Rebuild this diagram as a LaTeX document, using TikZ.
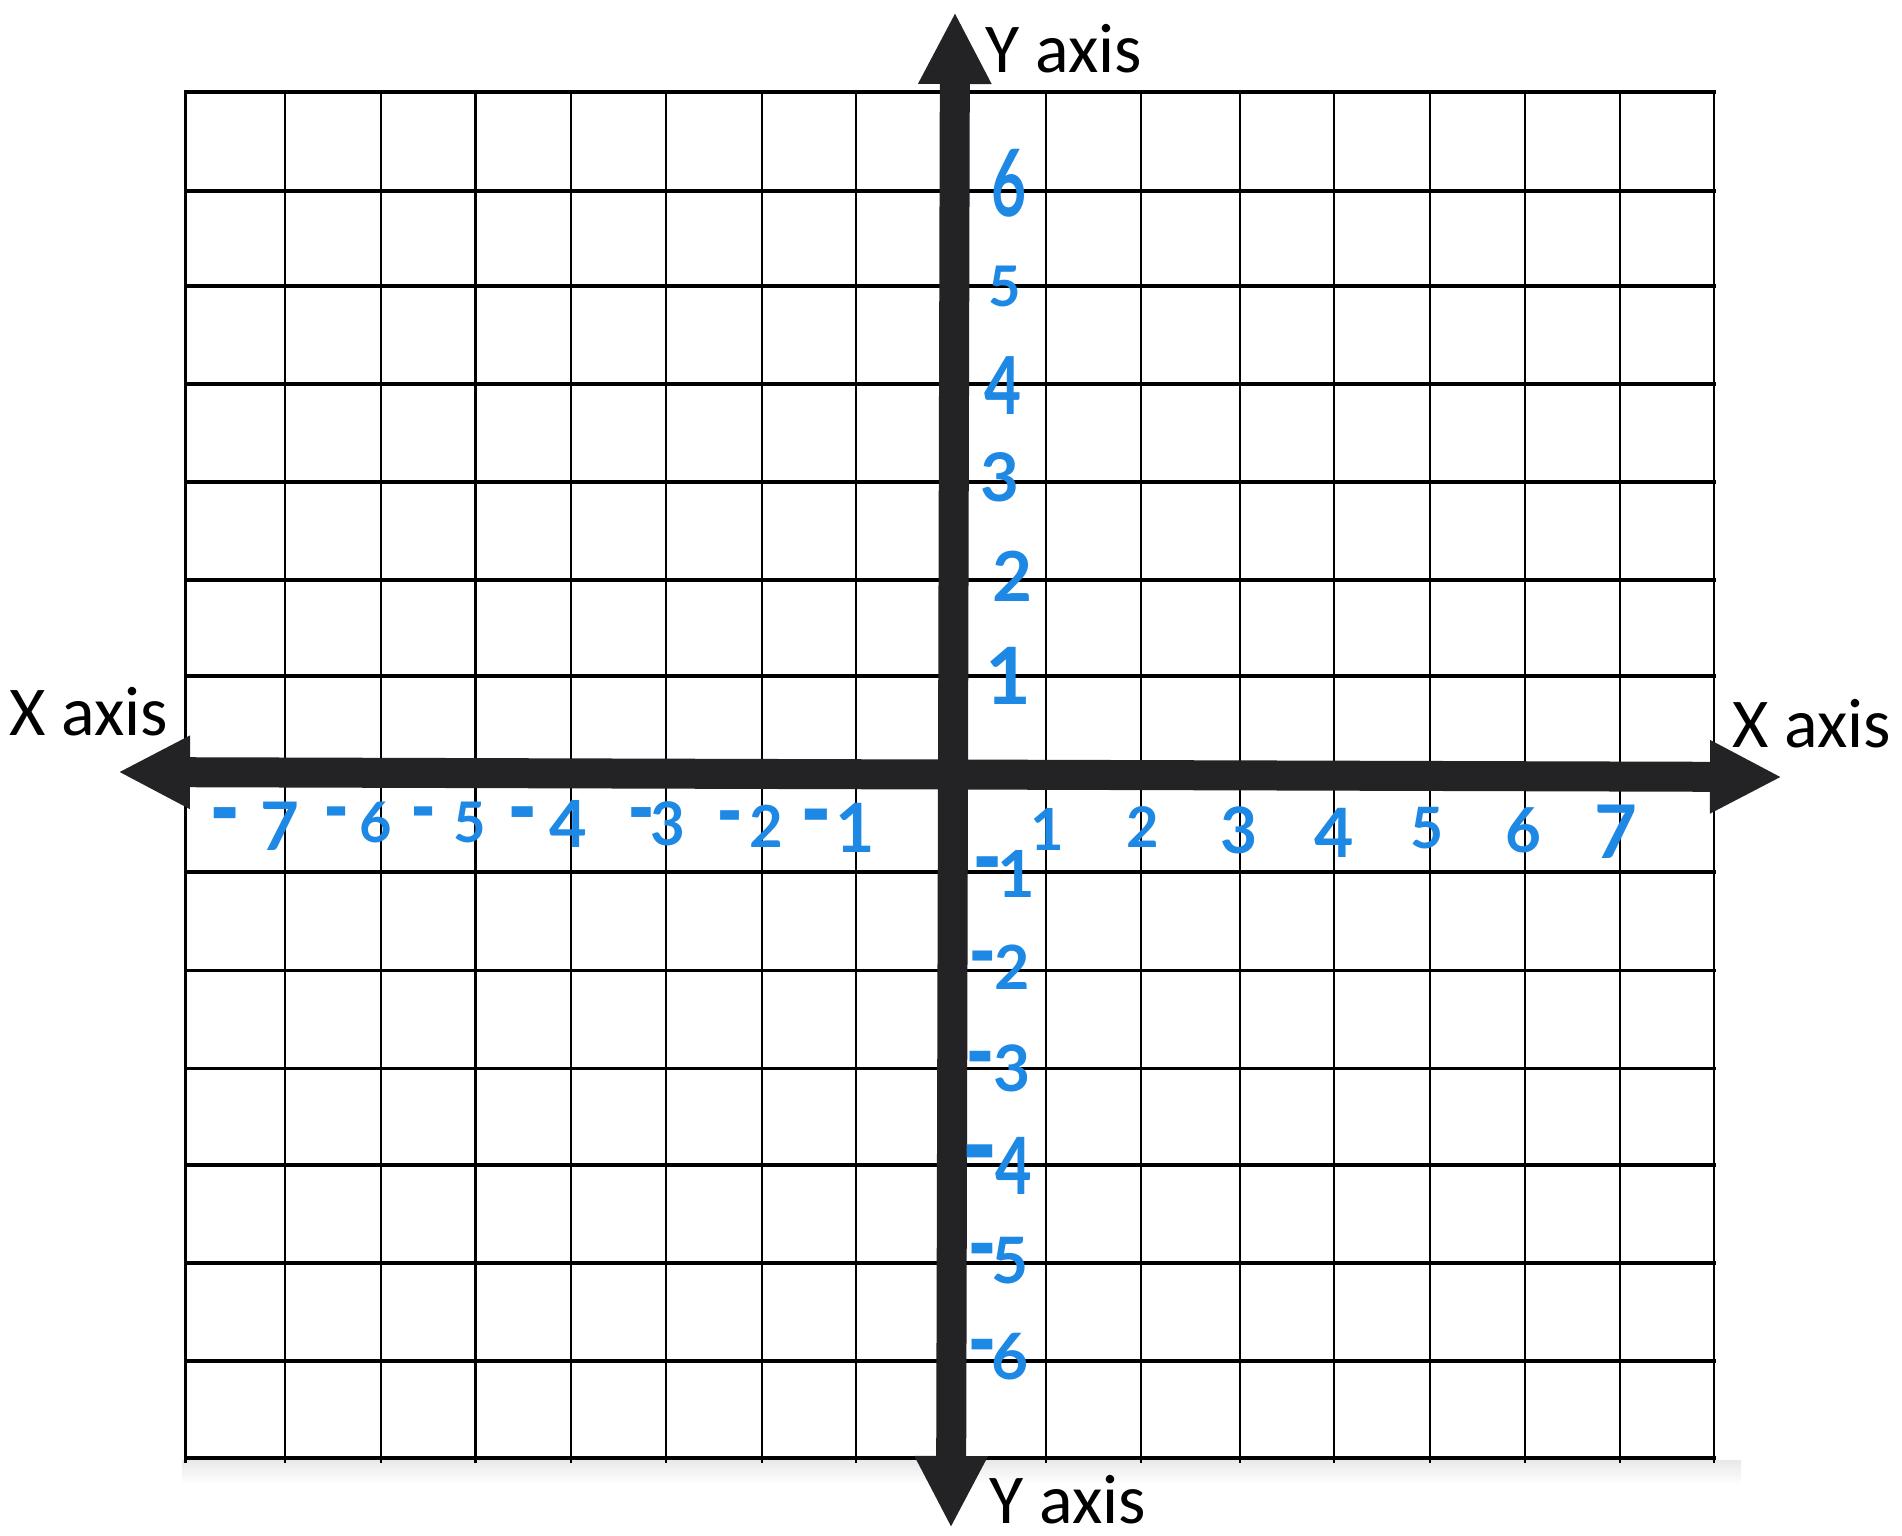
\documentclass[tikz,border=0pt]{standalone}
\usepackage{fontspec}
\usetikzlibrary{arrows.meta}
\newfontfamily\labfont{Carlito}
\newfontfamily\handfont{Lato}
\definecolor{axiscol}{HTML}{232326}
\definecolor{handblue}{HTML}{1E88E5}
\newcommand\hneg[2]{\llap{\raisebox{0.06em}{\scalebox{1.25}[1.6]{-}}\hspace{#1pt}}#2}
\newcommand\narrow[2]{\scalebox{#1}[1]{#2}}
\tikzset{
  gridv/.style={line width=2.8pt, black},
  gridh/.style={line width=3.5pt, black},
  axisline/.style={line width=30pt, color=axiscol,
    {Triangle[length=72pt,width=68pt]}-{Triangle[length=72pt,width=68pt]}},
  axislabel/.style={inner sep=0pt, anchor=base west, text=black,
    font=\labfont\fontsize{70}{70}\selectfont},
  num/.style={inner sep=0pt, anchor=base, text=handblue,
    font=\handfont\bfseries\fontsize{#1}{#1}\selectfont},
}
\begin{document}
\begin{tikzpicture}[x=1pt,y=-1pt]
\path[use as bounding box, fill=white] (0,0) rectangle (1902,1535);
% faint shadow below grid
\shade[top color=black!9, bottom color=white] (182,1460) rectangle (1741,1484);
% grid
\foreach \x in {185.6,285,381,475.5,571,666,762,856,953,1046,1141,1240,1334,1430,1525,1620,1714}
  \draw[gridv] (\x,90) -- (\x,1463);
\foreach \y in {92,191,286,384,482,580,676,773,872,970.5,1068.5,1165,1263,1361,1458}
  \draw[gridh] (184,\y) -- (1716,\y);
% axes
\coordinate (ytop) at (955,12);
\coordinate (ybot) at (951,1528);
\coordinate (xleft) at (118,772);
\coordinate (xright) at (1782,777);
\draw[axisline] (xleft) -- (xright);
\draw[axisline] (ytop) -- (ybot);
% axis labels
\node[axislabel] (ylabtop) at (985,72) {Y axis};
\node[axislabel] (ylabbot) at (989,1523) {Y axis};
\node[axislabel] (xlableft) at (9,735) {X axis};
\node[axislabel] (xlabright) at (1732,747) {X axis};
% x negative
\node[num=67] (xm7) at (280,850) {\hneg{20}{7}};
\node[num=56] (xm6) at (376,842) {\hneg{10}{6}};
\node[num=56] (xm5) at (470,842) {\hneg{17}{5}};
\node[num=65] (xm4) at (568,847) {\hneg{11}{4}};
\node[num=60] (xm3) at (668,845) {\hneg{-5}{3}};
\node[num=58] (xm2) at (766,847) {\hneg{6}{2}};
\node[num=68] (xm1) at (855,852) {\hneg{3}{1}};
% x positive
\node[num=58] (xp1) at (1047,850) {1};
\node[num=56] (xp2) at (1143,847) {2};
\node[num=64] (xp3) at (1239,853) {3};
\node[num=68] (xp4) at (1334,857) {4};
\node[num=57] (xp5) at (1427,848) {5};
\node[num=62] (xp6) at (1523,852) {6};
\node[num=74] (xp7) at (1616,858) {7};
% y positive
\node[num=93] (yp6) at (1009,216) {\narrow{0.65}{6}};
\node[num=56] (yp5) at (1005,306) {5};
\node[num=80] (yp4) at (1003,414) {\narrow{0.8}{4}};
\node[num=67] (yp3) at (1000,501) {3};
\node[num=69] (yp2) at (1012,601) {2};
\node[num=79] (yp1) at (1008,704) {1};
% y negative
\node[num=65] (ym1) at (1016,897) {\hneg{-6}{1}};
\node[num=61] (ym2) at (1012,989) {\hneg{-3}{2}};
\node[num=64] (ym3) at (1012,1091) {\hneg{-2}{3}};
\node[num=79] (ym4) at (1014,1194) {\hneg{-3}{\narrow{0.8}{4}}};
\node[num=64] (ym5) at (1010,1283) {\hneg{-6}{5}};
\node[num=64] (ym6) at (1010,1379) {\hneg{-6}{6}};
\end{tikzpicture}
\end{document}
